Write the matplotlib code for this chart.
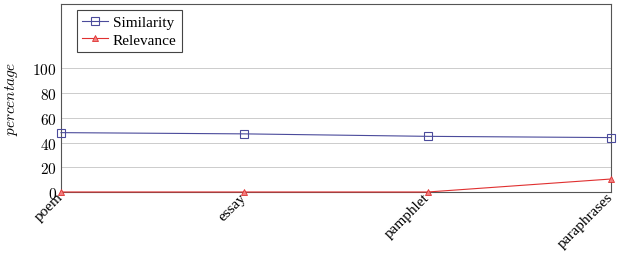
import matplotlib
matplotlib.use("Agg")
from matplotlib import pyplot as plt

categories = ["poem", "essay", "pamphlet", "paraphrases"]
similarity = [48, 47, 45, 44]
relevance = [0, 0, 0, 10.5]

plt.rcParams["font.family"] = ["cmr10", "DejaVu Serif"]
plt.rcParams["mathtext.fontset"] = "cm"
plt.rcParams["axes.formatter.use_mathtext"] = True

fig = plt.figure(figsize=(6.21, 2.55), dpi=100)
ax = fig.add_axes([61 / 621, 1 - 193 / 255, 550 / 621, 188 / 255])

x = range(len(categories))
ax.plot(x, similarity, "-s", color="#4b4b9b", lw=0.8, ms=5.5,
        mfc="none", mew=0.8, label="Similarity", clip_on=False, zorder=3)
ax.plot(x, relevance, "-^", color="#e03030", lw=0.8, ms=4.5,
        mfc="#f08080", mew=0.6, label="Relevance", clip_on=False, zorder=3)

ax.set_xlim(0, len(categories) - 1)
ax.set_ylim(0, 152)
ax.set_yticks([0, 20, 40, 60, 80, 100])
ax.set_xticks(list(x))
ax.set_xticklabels(categories, rotation=45, ha="right", va="center",
                   rotation_mode="anchor", fontsize=11,
                   family="Liberation Serif")
ax.tick_params(axis="y", labelsize=11, length=0, pad=3)
ax.tick_params(axis="x", length=0, pad=2)
ax.yaxis.grid(True, color="#cccccc", lw=0.7)
ax.set_axisbelow(True)
for s in ax.spines.values():
    s.set_color("#555555")
    s.set_linewidth(0.8)
ax.set_ylabel(r"$percentage$", fontsize=11, labelpad=9)

leg = ax.legend(loc="upper left", bbox_to_anchor=(0.029, 0.968),
                prop={"family": "Liberation Serif", "size": 11},
                fancybox=False, edgecolor="#444444", framealpha=1,
                borderpad=0.35, handlelength=1.7, labelspacing=0.25,
                handletextpad=0.3, borderaxespad=0)
leg.get_frame().set_linewidth(0.8)

fig.savefig("out.png", dpi=100)
